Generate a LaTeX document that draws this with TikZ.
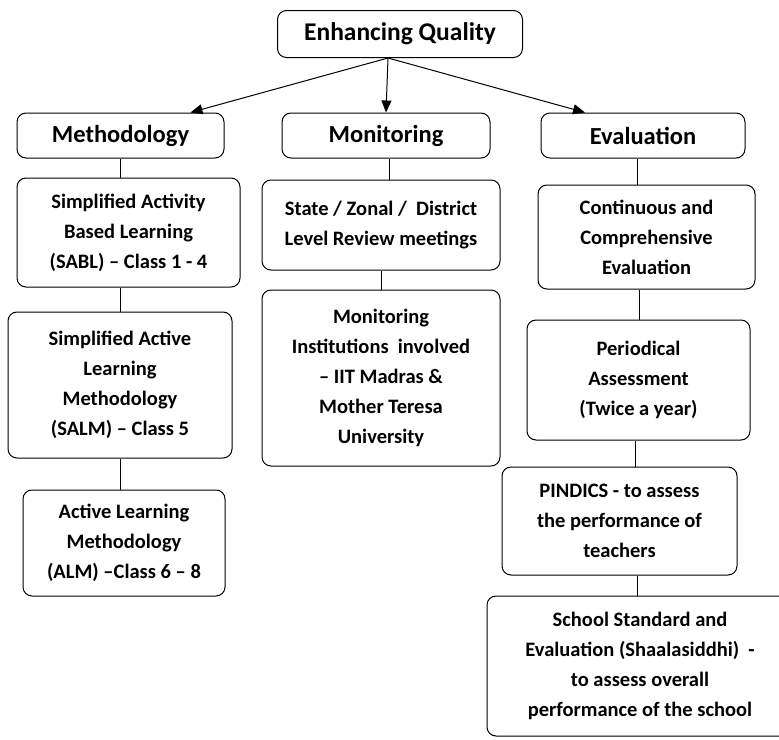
\documentclass[tikz,border=0pt]{standalone}
\usepackage{fontspec}
\setmainfont{Carlito}
\usetikzlibrary{arrows.meta}
\begin{document}
\begin{tikzpicture}[x=1pt,y=-1pt,
  box/.style={draw=black,line width=1pt,rounded corners=9pt,inner sep=0pt,align=center,
    font=\fontsize{20.5}{30}\selectfont\bfseries},
  head/.style={box,font=\fontsize{24.5}{30}\selectfont\bfseries},
  arr/.style={line width=1pt,-{Triangle[length=12pt,width=10pt]}},
  link/.style={line width=1pt}]
\useasboundingbox (0,0) rectangle (779,739);
\clip (0,0) rectangle (779,739);
\node[head,font=\fontsize{25.5}{30}\selectfont\bfseries,minimum width=245pt,minimum height=47pt] (eq) at (400,34) {Enhancing Quality};
\node[head,minimum width=207pt,minimum height=45pt] (meth) at (120.5,135.5) {\raisebox{-2pt}{Methodology}};
\node[head,minimum width=208pt,minimum height=45pt] (mon) at (386,135.5) {\raisebox{-2pt}{Monitoring}};
\node[head,minimum width=204pt,minimum height=45pt] (eval) at (643,135.5) {\raisebox{-2pt}{Evaluation}};

\node[box,minimum width=223pt,minimum height=109pt] (sabl) at (128.5,232.5) {Simplified Activity\\Based Learning\\(SABL) -- Class 1 - 4};
\node[box,minimum width=224pt,minimum height=146pt] (salm) at (120,385) {Simplified Active\\Learning\\Methodology\\(SALM) -- Class 5};
\node[box,minimum width=202pt,minimum height=106pt] (alm) at (124,543) {Active Learning\\Methodology\\(ALM) --Class 6 -- 8};

\node[box,minimum width=238pt,minimum height=90pt] (state) at (381,225) {State / Zonal /\ \ District\\Level Review meetings};
\node[box,minimum width=238pt,minimum height=176pt] (inst) at (381,378) {Monitoring\\Institutions\ \ involved\\-- IIT Madras \&\\Mother Teresa\\University};

\node[box,minimum width=217pt,minimum height=104pt] (cce) at (646.5,237) {Continuous and\\Comprehensive\\Evaluation};
\node[box,minimum width=223pt,minimum height=120pt] (per) at (638.5,380) {Periodical\\Assessment\\(Twice a year)};
\node[box,minimum width=235pt,minimum height=108pt] (pin) at (619.5,521) {PINDICS - to assess\\the performance of\\teachers};
\node[box,minimum width=306pt,minimum height=140pt] (sch) at (640,666) {School Standard and\\Evaluation (Shaalasiddhi)\ \ -\\to assess overall\\performance of the school};

\draw[arr] ([xshift=-12pt]eq.south) -- ([xshift=70pt]meth.north);
\draw[arr] ([xshift=-12pt]eq.south) -- (mon.north);
\draw[arr] ([xshift=-12pt]eq.south) -- ([xshift=-58pt]eval.north);

\draw[link] (meth.south) -- (meth.south |- sabl.north);
\draw[link] (meth.south |- sabl.south) -- (meth.south |- salm.north);
\draw[link] (meth.south |- salm.south) -- (meth.south |- alm.north);

\draw[link] ([xshift=3pt]mon.south) -- ([xshift=3pt]mon.south |- state.north);
\draw[link] (state.south) -- (inst.north);

\draw[link] ([xshift=-6pt]eval.south) -- ([xshift=-6pt]eval.south |- cce.north);
\draw[link] ([xshift=1pt]per.north |- cce.south) -- ([xshift=1pt]per.north);
\draw[link] ([xshift=-3pt]per.south) -- ([xshift=-3pt]per.south |- pin.north);
\draw[link] ([xshift=-3pt]sch.north |- pin.south) -- ([xshift=-3pt]sch.north);
\end{tikzpicture}
\end{document}
